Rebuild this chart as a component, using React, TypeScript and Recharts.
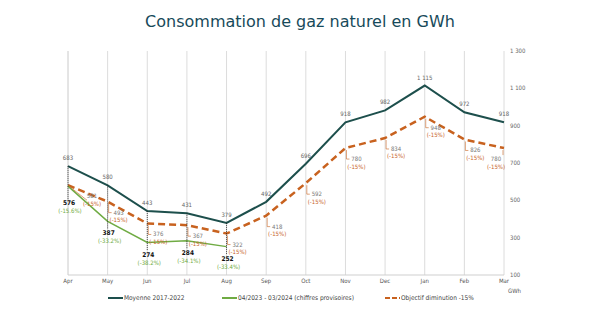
import { LineChart, Line, XAxis, YAxis, CartesianGrid, LabelList } from 'recharts';

const months = ['Apr', 'May', 'Jun', 'Jul', 'Aug', 'Sep', 'Oct', 'Nov', 'Dec', 'Jan', 'Feb', 'Mar'];
const moyenne = [683, 580, 443, 431, 379, 492, 696, 918, 982, 1115, 972, 918];
const objectif = [581, 493, 376, 367, 322, 418, 592, 780, 834, 948, 826, 780];
const reel = [576, 387, 274, 284, 252, null, null, null, null, null, null, null];
const reelPct = ['(-15.6%)', '(-33.2%)', '(-38.2%)', '(-34.1%)', '(-33.4%)'];
const yTicks = [100, 300, 500, 700, 900, 1100, 1300];

const data = months.map((m, i) => ({
  month: m,
  moyenne: moyenne[i],
  objectif: objectif[i],
  reel: reel[i],
}));

const W = 600;
const H = 325;
const MARGIN = { top: 51, right: 0, left: 68, bottom: 36 };
const X_AXIS_H = 14;
const PLOT_H = H - MARGIN.top - MARGIN.bottom - X_AXIS_H;
const K = PLOT_H / (1300 - 100);

const TEAL = '#1d4f4c';
const GREEN = '#6fab43';
const ORANGE = '#c8621f';
const FONT = '"DejaVu Sans Condensed", "DejaVu Sans", sans-serif';

const fmt = (v: number) => (v >= 1000 ? `${Math.floor(v / 1000)} ${String(v % 1000).padStart(3, '0')}` : String(v));

const MoyLabel = (props: any) => {
  const { x, y, index } = props;
  return (
    <text x={x} y={y - 6} textAnchor="middle" fontSize={6} fill="#666" fontFamily={FONT}>
      {fmt(moyenne[index])}
    </text>
  );
};

const ObjLabel = (props: any) => {
  const { x, y, index } = props;
  const first = index === 0;
  const last = index === objectif.length - 1;
  const tx = first ? x + 24 : last ? x - 8 : x + 11;
  const ty = y + 13;
  const path = first
    ? `M${x + 1},${y + 1} L${tx - 5},${ty + 2}`
    : last
    ? `M${x - 1},${y + 2} L${x - 1},${ty - 6}`
    : `M${x + 1},${y + 2} L${x + 1},${ty - 2} L${x + 4},${ty - 2}`;
  return (
    <g>
      <path d={path} stroke={ORANGE} strokeWidth={0.6} fill="none" />
      <text x={tx} y={ty} textAnchor="middle" fontSize={6} fill="#777" fontFamily={FONT}>
        {objectif[index]}
      </text>
      <text x={tx} y={ty + 7.5} textAnchor="middle" fontSize={6} fill={ORANGE} fontFamily={FONT}>
        (-15%)
      </text>
    </g>
  );
};

const ReelLabel = (props: any) => {
  const { x, y, index } = props;
  const v = reel[index];
  if (v == null || x == null || y == null) return null;
  const top = y - (moyenne[index] - v) * K;
  const ty = index === 0 ? y + 19 : y + 14;
  return (
    <g>
      <line x1={x} x2={x} y1={top} y2={ty - 6} stroke="#222" strokeWidth={0.8} strokeDasharray="1 1" />
      <text x={x + 1} y={ty} textAnchor="middle" fontSize={6.5} fontWeight="bold" fill="#111" fontFamily={FONT}>
        {v}
      </text>
      <text x={x + 2} y={ty + 8} textAnchor="middle" fontSize={6} fill={GREEN} fontFamily={FONT}>
        {reelPct[index]}
      </text>
    </g>
  );
};

const legendItems = [
  { label: 'Moyenne 2017-2022', color: TEAL, dashed: false, left: 108 },
  { label: '04/2023 - 03/2024 (chiffres provisoires)', color: GREEN, dashed: false, left: 222 },
  { label: 'Objectif diminution -15%', color: ORANGE, dashed: true, left: 385 },
];

export default function App() {
  return (
    <div style={{ position: 'absolute', left: 0, top: 0, width: W, height: H, background: '#fff', overflow: 'hidden' }}>
      <div
        style={{
          position: 'absolute',
          top: 12,
          left: 0,
          width: W,
          textAlign: 'center',
          fontFamily: '"DejaVu Sans", sans-serif',
          fontSize: 16,
          color: '#174a5a',
        }}
      >
        Consommation de gaz naturel en GWh
      </div>
      <LineChart width={W} height={H} data={data} margin={MARGIN}>
        <CartesianGrid horizontal={false} stroke="#dcdcdc" strokeWidth={1} />
        <XAxis
          dataKey="month"
          height={X_AXIS_H}
          tickLine={false}
          tickSize={2}
          axisLine={{ stroke: '#cfcfcf' }}
          tick={{ fontSize: 6, fill: '#555', fontFamily: FONT }}
          interval={0}
        />
        <YAxis
          orientation="right"
          width={96}
          domain={[100, 1300]}
          ticks={yTicks}
          tickFormatter={fmt}
          axisLine={false}
          tickLine={false}
          tickSize={4}
          tick={{ fontSize: 6, fill: '#666', fontFamily: FONT }}
        />
        <Line
          dataKey="objectif"
          stroke={ORANGE}
          strokeWidth={2.5}
          strokeDasharray="7 4"
          dot={false}
          isAnimationActive={false}
        >
          <LabelList dataKey="objectif" content={ObjLabel} />
        </Line>
        <Line dataKey="moyenne" stroke={TEAL} strokeWidth={2} dot={false} isAnimationActive={false}>
          <LabelList dataKey="moyenne" content={MoyLabel} />
        </Line>
        <Line dataKey="reel" stroke={GREEN} strokeWidth={1.5} dot={false} isAnimationActive={false} connectNulls={false}>
          <LabelList dataKey="reel" content={ReelLabel} />
        </Line>
      </LineChart>
      <div style={{ position: 'absolute', left: 508, top: 287, fontSize: 6, color: '#555', fontFamily: FONT }}>GWh</div>
      {legendItems.map((it) => (
        <div
          key={it.label}
          style={{
            position: 'absolute',
            left: it.left,
            top: 294,
            display: 'flex',
            alignItems: 'center',
            fontSize: 6.5,
            color: '#444',
            fontFamily: FONT,
            whiteSpace: 'nowrap',
          }}
        >
          <svg width={15} height={6} style={{ marginRight: 1 }}>
            <line
              x1={0}
              x2={15}
              y1={3}
              y2={3}
              stroke={it.color}
              strokeWidth={2}
              strokeDasharray={it.dashed ? '5 2' : undefined}
            />
          </svg>
          {it.label}
        </div>
      ))}
    </div>
  );
}
